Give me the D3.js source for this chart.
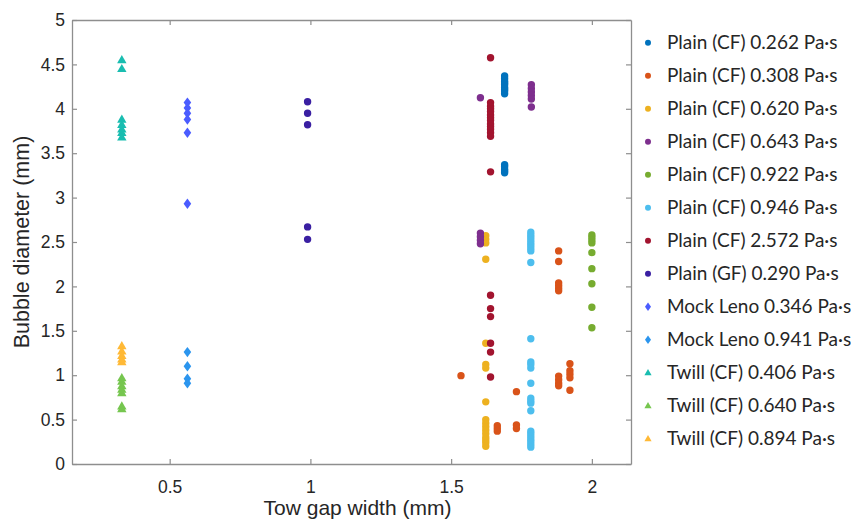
<!DOCTYPE html>
<html><head><meta charset="utf-8">
<script src="https://cdn.jsdelivr.net/npm/d3@7"></script>
<style>body{margin:0;background:#fff}</style>
</head><body>
<svg id="chart" width="851" height="521"></svg>
<script>
// ---- data ----
const seriesNames = [
  "Plain (CF) 0.262 Pa·s","Plain (CF) 0.308 Pa·s","Plain (CF) 0.620 Pa·s","Plain (CF) 0.643 Pa·s",
  "Plain (CF) 0.922 Pa·s","Plain (CF) 0.946 Pa·s","Plain (CF) 2.572 Pa·s","Plain (GF) 0.290 Pa·s",
  "Mock Leno 0.346 Pa·s","Mock Leno 0.941 Pa·s","Twill (CF) 0.406 Pa·s","Twill (CF) 0.640 Pa·s","Twill (CF) 0.894 Pa·s"
];
const seriesShapes = ["circle","circle","circle","circle","circle","circle","circle","circle",
  "diamond","diamond","triangle","triangle","triangle"];
const seriesColors = ["#0072BD","#D95319","#EDB120","#7E2F8E","#77AC30","#4DBEEE","#A2142F","#3A1FA2",
  "#4A5CFF","#2B95EE","#19BDB0","#76C64F","#FFB936"];

// points as [tow gap width, bubble diameter]
const plainCF0262 = [[1.69,4.37],[1.69,4.34],[1.69,4.31],[1.69,4.29],[1.69,4.27],[1.69,4.24],[1.69,4.22],[1.69,4.20],[1.69,4.17],
  [1.69,3.37],[1.69,3.35],[1.69,3.32],[1.69,3.30],[1.69,3.28]];
const plainCF0308 = [[1.535,0.995],[1.664,0.43],[1.664,0.40],[1.664,0.37],[1.732,0.815],[1.732,0.44],[1.732,0.40],
  [1.882,2.40],[1.882,2.28],[1.882,2.04],[1.882,2.01],[1.882,1.98],[1.882,1.95],[1.882,0.99],[1.882,0.95],[1.882,0.91],[1.882,0.88],
  [1.922,1.13],[1.922,1.05],[1.922,1.01],[1.922,0.97],[1.922,0.83]];
const plainCF0620 = [[1.623,2.57],[1.623,2.53],[1.623,2.49],[1.623,2.305],[1.623,1.36],[1.623,1.12],[1.623,1.08],[1.623,0.70],
  [1.623,0.50],[1.623,0.46],[1.623,0.42],[1.623,0.38],[1.623,0.34],[1.623,0.30],[1.623,0.27],[1.623,0.24],[1.623,0.20]];
const plainCF0643 = [[1.604,4.125],[1.604,2.60],[1.604,2.56],[1.604,2.52],[1.604,2.48],
  [1.785,4.27],[1.785,4.23],[1.785,4.19],[1.785,4.15],[1.785,4.11],[1.785,4.02]];
const plainCF0922 = [[2.0,2.58],[2.0,2.55],[2.0,2.52],[2.0,2.49],[2.0,2.38],[2.0,2.20],[2.0,2.03],[2.0,1.765],[2.0,1.535]];
const plainCF0946 = [[1.783,2.61],[1.783,2.58],[1.783,2.55],[1.783,2.52],[1.783,2.49],[1.783,2.46],[1.783,2.43],[1.783,2.40],[1.783,2.27],
  [1.783,1.41],[1.783,1.15],[1.783,1.12],[1.783,1.08],[1.783,0.91],[1.783,0.74],[1.783,0.71],[1.783,0.685],[1.783,0.60],
  [1.783,0.37],[1.783,0.34],[1.783,0.31],[1.783,0.28],[1.783,0.25],[1.783,0.22],[1.783,0.19]];
const plainCF2572 = [[1.640,4.575],[1.640,4.07],[1.640,4.03],[1.640,4.00],[1.640,3.97],[1.640,3.93],[1.640,3.90],[1.640,3.87],
  [1.640,3.83],[1.640,3.80],[1.640,3.77],[1.640,3.73],[1.640,3.69],[1.640,3.29],[1.640,1.90],[1.640,1.75],[1.640,1.66],
  [1.640,1.36],[1.640,1.26],[1.640,0.98]];
const plainGF0290 = [[0.99,4.08],[0.99,3.95],[0.99,3.82],[0.99,2.67],[0.99,2.53]];
const mockLeno0346 = [[0.563,4.07],[0.563,4.01],[0.563,3.95],[0.563,3.88],[0.563,3.73],[0.563,2.93]];
const mockLeno0941 = [[0.563,1.26],[0.563,1.10],[0.563,0.96],[0.563,0.91]];
const twillCF0406 = [[0.33,4.55],[0.33,4.45],[0.33,3.88],[0.33,3.82],[0.33,3.77],[0.33,3.73],[0.33,3.68]];
const twillCF0640 = [[0.33,0.97],[0.33,0.93],[0.33,0.88],[0.33,0.84],[0.33,0.80],[0.33,0.65],[0.33,0.62]];
const twillCF0894 = [[0.33,1.33],[0.33,1.27],[0.33,1.22],[0.33,1.18],[0.33,1.15]];

const seriesData = [plainCF0262,plainCF0308,plainCF0620,plainCF0643,plainCF0922,plainCF0946,plainCF2572,
  plainGF0290,mockLeno0346,mockLeno0941,twillCF0406,twillCF0640,twillCF0894];

const xTicks = [0.5, 1, 1.5, 2];
const yTicks = [0,0.5,1,1.5,2,2.5,3,3.5,4,4.5,5];
const xDomain = [0.153, 2.139];
const yDomain = [0, 5];
const xLabel = "Tow gap width (mm)";
const yLabel = "Bubble diameter (mm)";

// ---- layout ----
const svg = d3.select("#chart");
const L = 72, R = 631, T = 20, B = 464;
const x = d3.scaleLinear().domain(xDomain).range([L, R]);
const y = d3.scaleLinear().domain(yDomain).range([B, T]);
const axisColor = "#8e8e8e", textColor = "#262626";
const axisFont = "'Liberation Sans',Arial,sans-serif";

function shapePath(shape, s) {
  const p = d3.path();
  if (shape === "circle") { p.arc(0,0,s.r,0,2*Math.PI); }
  else if (shape === "diamond") { p.moveTo(0,-s.dh); p.lineTo(s.dw,0); p.lineTo(0,s.dh); p.lineTo(-s.dw,0); p.closePath(); }
  else { p.moveTo(0,-s.th*0.6); p.lineTo(s.tw,s.th*0.4); p.lineTo(-s.tw,s.th*0.4); p.closePath(); }
  return p.toString();
}
const plotSize = {r:3.7, dw:3.8, dh:5.2, tw:4.7, th:8.2};
const legSize = {r:3.0, dw:3.0, dh:4.2, tw:3.6, th:6.2};

// axes
const gx = svg.append("g").attr("transform",`translate(0,${B})`)
  .call(d3.axisBottom(x).tickValues(xTicks).tickFormat(d3.format("")).tickSizeInner(-5).tickSizeOuter(0).tickPadding(17));
const gy = svg.append("g").attr("transform",`translate(${L},0)`)
  .call(d3.axisLeft(y).tickValues(yTicks).tickFormat(d3.format("")).tickSizeInner(-5).tickSizeOuter(0).tickPadding(7));
const gxt = svg.append("g").attr("transform",`translate(0,${T})`)
  .call(d3.axisTop(x).tickValues(xTicks).tickFormat("").tickSizeInner(-5).tickSizeOuter(0));
const gyr = svg.append("g").attr("transform",`translate(${R},0)`)
  .call(d3.axisRight(y).tickValues(yTicks).tickFormat("").tickSizeInner(-5).tickSizeOuter(0));
[gx,gy,gxt,gyr].forEach(g => {
  g.select(".domain").attr("stroke",axisColor).attr("stroke-width",1.3);
  g.selectAll(".tick line").attr("stroke",axisColor).attr("stroke-width",1.2);
  g.selectAll("text").attr("fill",textColor).style("font-family",axisFont).style("font-size","17.5px");
});

// axis labels
svg.append("text").attr("x",(L+R)/2+6).attr("y",515).attr("text-anchor","middle")
  .attr("fill",textColor).style("font-family",axisFont).style("font-size","21px").text(xLabel);
svg.append("text").attr("transform",`translate(29,${(T+B)/2}) rotate(-90)`).attr("text-anchor","middle")
  .attr("fill",textColor).style("font-family",axisFont).style("font-size","21.5px").text(yLabel);

// points
const gp = svg.append("g");
seriesData.forEach((data,i) => {
  gp.append("g").selectAll("path").data(data).join("path")
    .attr("d", shapePath(seriesShapes[i], plotSize))
    .attr("transform", d => `translate(${x(d[0])},${y(d[1])})`)
    .attr("fill", seriesColors[i]);
});

// legend
const leg = svg.append("g");
seriesNames.forEach((name,i) => {
  const cy = 42.7 + i*33;
  leg.append("path").attr("d", shapePath(seriesShapes[i], legSize))
    .attr("transform",`translate(648,${cy})`).attr("fill",seriesColors[i]);
  leg.append("text").attr("x",667).attr("y",cy+6.5).attr("fill",textColor)
    .style("font-family","Lato,'Open Sans',sans-serif").style("font-size","19px").text(name);
});
</script>
</body></html>
